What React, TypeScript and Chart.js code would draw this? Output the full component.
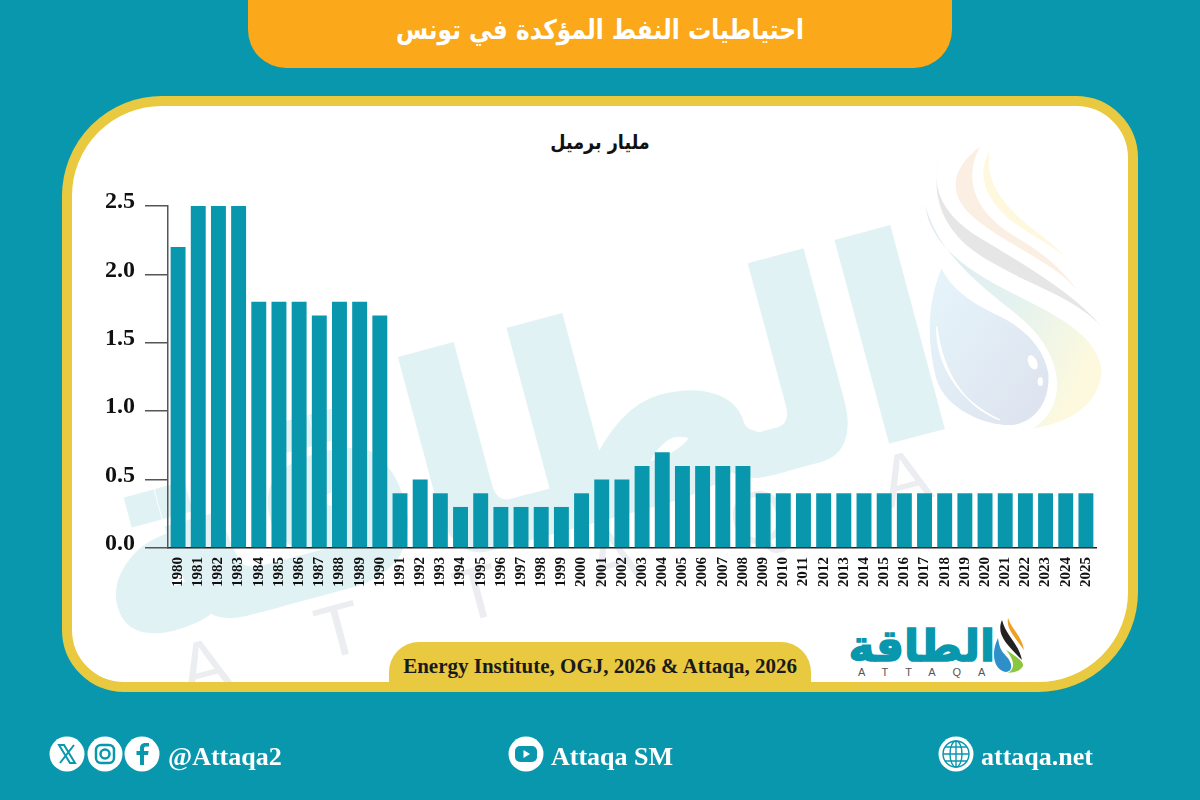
import React, { useEffect, useRef } from "react";
import { Chart, registerables } from "chart.js";

Chart.register(...registerables);

const years = ["1980","1981","1982","1983","1984","1985","1986","1987","1988","1989","1990","1991","1992","1993","1994","1995","1996","1997","1998","1999","2000","2001","2002","2003","2004","2005","2006","2007","2008","2009","2010","2011","2012","2013","2014","2015","2016","2017","2018","2019","2020","2021","2022","2023","2024","2025"];
const reserves = [2.2,2.5,2.5,2.5,1.8,1.8,1.8,1.7,1.8,1.8,1.7,0.4,0.5,0.4,0.3,0.4,0.3,0.3,0.3,0.3,0.4,0.5,0.5,0.6,0.7,0.6,0.6,0.6,0.6,0.4,0.4,0.4,0.4,0.4,0.4,0.4,0.4,0.4,0.4,0.4,0.4,0.4,0.4,0.4,0.4,0.4];
const titleText = "احتياطيات النفط المؤكدة في تونس";
const unitText = "مليار برميل";
const sourceText = "Energy Institute, OGJ, 2026 & Attaqa, 2026";

const TEAL = "#0897ad";
const SERIF = "'Liberation Serif', serif";
const ARABIC = "'DejaVu Sans', sans-serif";

const abs = (s: React.CSSProperties): React.CSSProperties => ({ position: "absolute", whiteSpace: "nowrap", ...s });

function Circle({ x, children }: { x: number; children: React.ReactNode }) {
  return (
    <svg style={abs({ left: x, top: 736, width: 36, height: 36 })} viewBox="0 0 36 36">
      <circle cx="18" cy="18" r="17.5" fill="#fff" />
      {children}
    </svg>
  );
}

export default function App() {
  const ref = useRef<HTMLCanvasElement>(null);
  useEffect(() => {
    document.body.style.margin = "0";
    const chart = new Chart(ref.current!, {
      type: "bar",
      data: {
        labels: years,
        datasets: [{ data: reserves, backgroundColor: TEAL, barPercentage: 0.74, categoryPercentage: 1 }],
      },
      options: {
        animation: false,
        responsive: false,
        layout: { padding: { top: 206, right: 104, left: 0, bottom: 0 } },
        plugins: { legend: { display: false }, tooltip: { enabled: false } },
        scales: {
          x: {
            afterFit: (s: any) => { s.height = 252; },
            grid: { display: false, drawTicks: false },
            border: { color: "#222", width: 1.5 },
            ticks: {
              autoSkip: false, minRotation: 90, maxRotation: 90, padding: 9,
              color: "#111", font: { family: "Liberation Serif", weight: "bold", size: 15 },
            },
          },
          y: {
            min: 0, max: 2.5,
            afterFit: (s: any) => { s.width = 168; },
            grid: { drawOnChartArea: false, tickLength: 23, tickColor: "#555", lineWidth: 1.5 },
            border: { color: "#555", width: 1.5 },
            ticks: {
              stepSize: 0.5, padding: 10, labelOffset: -4, color: "#111",
              callback: (v: any) => Number(v).toFixed(1),
              font: { family: "Liberation Serif", weight: "bold", size: 24 },
            },
          },
        },
      },
    } as any);
    return () => chart.destroy();
  }, []);

  return (
    <div style={{ position: "relative", width: 1200, height: 800, background: TEAL, overflow: "hidden" }}>
      {/* header */}
      <div style={abs({ left: 248, top: -20, width: 704, height: 88, background: "#fba81a", borderRadius: "0 0 38px 38px" })} />
      <div dir="rtl" style={abs({ left: 248, width: 704, top: 14, textAlign: "center", color: "#fff", fontFamily: ARABIC, fontWeight: 700, fontSize: 27, transform: "scaleX(0.863)" })}>{titleText}</div>

      {/* panel */}
      <div style={abs({
        left: 62, top: 96, width: 1076, height: 596, boxSizing: "border-box", background: "#fff", border: "10px solid #e8c93f",
        borderRadius: "100px 62px 100px 62px", overflow: "hidden",
      })}>
        {/* watermark */}
        <div dir="rtl" style={abs({ left: 28, top: 186, width: 850, textAlign: "center", fontFamily: ARABIC, fontWeight: 700, fontSize: 262, lineHeight: "300px", color: "#e1f2f5", WebkitTextStroke: "12px #e1f2f5", transform: "rotate(-15deg)" })}>الطاقة</div>
        <div style={abs({ left: 108, top: 524, fontFamily: "'Liberation Sans', sans-serif", fontSize: 74, letterSpacing: 98, color: "#ecedf0", transform: "rotate(-15deg)", transformOrigin: "0 50%" })}>ATTAQA</div>
      </div>

      {/* flame mark of the watermark */}
      <svg style={abs({ left: 900, top: 130, width: 240, height: 320 })} viewBox="0 0 720 960">
        <defs>
          <linearGradient id="sw" x1="0" y1="0" x2="1" y2="0.6">
            <stop offset="0" stopColor="#dfe9f2" />
            <stop offset="0.55" stopColor="#e3f2f0" />
            <stop offset="1" stopColor="#fdf9de" />
          </linearGradient>
          <linearGradient id="dr" x1="0" y1="0" x2="1" y2="1">
            <stop offset="0" stopColor="#e6f5fb" />
            <stop offset="1" stopColor="#dde2ee" />
          </linearGradient>
        </defs>
        <path d="M270 60 C230 130 250 200 330 270 C400 320 460 350 490 375 C440 320 360 280 310 210 C270 160 260 110 270 60Z" fill="#fdf8de" />
        <path d="M240 50 C160 110 130 190 230 270 C330 350 470 400 540 490 C470 400 430 370 330 310 C220 240 190 140 240 50Z" fill="#fbeee2" />
        <path d="M115 95 C95 180 130 260 250 330 C400 420 530 500 605 590 C520 500 400 470 280 400 C150 330 90 230 115 95Z" fill="#e6e6e6" />
        <path d="M75 225 C90 330 170 400 300 470 C430 540 590 600 605 720 C600 830 500 880 400 895 C500 830 490 700 400 600 C330 520 130 420 75 225Z" fill="url(#sw)" />
        <path d="M125 415 C80 520 80 640 110 750 C140 840 260 890 340 885 C420 870 450 800 445 730 C430 650 370 590 280 550 C200 510 150 470 125 415Z" fill="url(#dr)" />
        <path d="M110 590 C110 700 170 810 300 870 C200 830 130 740 110 590Z" fill="#fff" stroke="#fff" strokeWidth="4" />
        <ellipse cx="398" cy="697" rx="13" ry="23" fill="#fff" transform="rotate(-25 398 697)" />
        <ellipse cx="421" cy="755" rx="8" ry="13" fill="#fff" />
      </svg>

      {/* source tab */}
      <div style={abs({ left: 389, top: 642, width: 422, height: 50, background: "#e8c93f", borderRadius: "30px 30px 0 0" })} />
      <div style={abs({ left: 389, width: 422, top: 654, textAlign: "center", fontFamily: SERIF, fontWeight: 700, fontSize: 21, color: "#1a1a1a" })}>{sourceText}</div>

      {/* unit */}
      <div dir="rtl" style={abs({ left: 400, width: 400, top: 130, textAlign: "center", fontFamily: ARABIC, fontWeight: 700, fontSize: 20, color: "#111", transform: "scaleX(0.88)" })}>{unitText}</div>

      {/* logo */}
      <div dir="rtl" style={abs({ left: 850, top: 620, width: 145, textAlign: "center", fontFamily: ARABIC, fontWeight: 700, fontSize: 44, lineHeight: "52px", color: TEAL, WebkitTextStroke: "1.5px " + TEAL })}>الطاقة</div>
      <div style={abs({ left: 858, top: 666, fontFamily: "'Liberation Sans', sans-serif", fontSize: 11, letterSpacing: 17, color: "#555" })}>ATTAQA</div>
      <svg style={abs({ left: 990, top: 616, width: 36, height: 60 })} viewBox="0 0 36 60">
        <path d="M12 4 C6 18 16 28 32 44 C28 26 16 20 12 4Z" fill="#222" />
        <path d="M18 2 C16 14 26 22 34 34 C32 20 22 14 18 2Z" fill="#f0a020" />
        <path d="M8 22 C1 36 3 54 16 56 C24 55 22 46 16 40 C11 35 9 30 8 22Z" fill="#2f8fc8" />
        <path d="M16 34 C26 40 34 46 33 50 C30 55 26 56 18 57 C26 52 24 44 16 34Z" fill="#8cc63f" />
      </svg>

      {/* chart */}
      <canvas ref={ref} width={1200} height={800} style={abs({ left: 0, top: 0, display: "block" })} />

      {/* footer */}
      <Circle x={49}>
        <path d="M10 9 L15 9 L26 27 L21 27Z M25 9 L11 27" fill="none" stroke={TEAL} strokeWidth="2" />
      </Circle>
      <Circle x={87}>
        <rect x="9" y="9" width="18" height="18" rx="5" fill="none" stroke={TEAL} strokeWidth="2.5" />
        <circle cx="18" cy="18" r="4.5" fill="none" stroke={TEAL} strokeWidth="2.5" />
      </Circle>
      <Circle x={124}>
        <path d="M20 29 V19 H24 L24.6 15 H20 V12.5 C20 11 21 10.5 22.5 10.5 H25 V7 H21.5 C17.5 7 16 9.5 16 12 V15 H12.5 V19 H16 V29Z" fill={TEAL} />
      </Circle>
      <div style={abs({ left: 168, top: 742, fontFamily: SERIF, fontWeight: 700, fontSize: 26, color: "#fff" })}>@Attaqa2</div>

      <Circle x={508}>
        <rect x="7" y="10" width="22" height="16" rx="5" fill={TEAL} />
        <path d="M15.5 14 L22 18 L15.5 22Z" fill="#fff" />
      </Circle>
      <div style={abs({ left: 551, top: 742, fontFamily: SERIF, fontWeight: 700, fontSize: 26, color: "#fff" })}>Attaqa SM</div>

      <Circle x={938}>
        <g fill="none" stroke={TEAL} strokeWidth="1.4">
          <circle cx="18" cy="18" r="13" />
          <ellipse cx="18" cy="18" rx="6" ry="13" />
          <path d="M5 18 H31 M7 11 H29 M7 25 H29 M18 5 V31" />
        </g>
      </Circle>
      <div style={abs({ left: 981, top: 742, fontFamily: SERIF, fontWeight: 700, fontSize: 26, color: "#fff" })}>attaqa.net</div>
    </div>
  );
}
